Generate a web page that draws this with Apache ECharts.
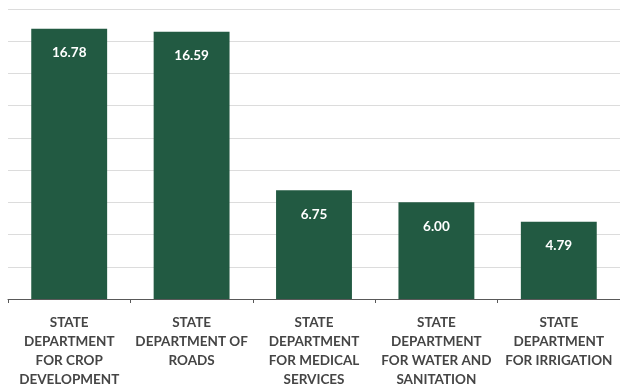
<!DOCTYPE html>
<html>
<head>
<meta charset="utf-8">
<script src="https://cdn.jsdelivr.net/npm/echarts@6/dist/echarts.min.js"></script>
<style>
  html, body { margin: 0; padding: 0; background: #fff; }
  #chart { width: 620px; height: 389px; }
</style>
</head>
<body>
<div id="chart"></div>
<script>
// Department names, split onto the lines shown under each bar
const categories = [
  'STATE\nDEPARTMENT\nFOR CROP\nDEVELOPMENT',
  'STATE\nDEPARTMENT OF\nROADS',
  'STATE\nDEPARTMENT\nFOR MEDICAL\nSERVICES',
  'STATE\nDEPARTMENT\nFOR WATER AND\nSANITATION',
  'STATE\nDEPARTMENT\nFOR IRRIGATION'
];
// Value for each department
const values = [16.78, 16.59, 6.75, 6.00, 4.79];

const chart = echarts.init(document.getElementById('chart'));
chart.setOption({
  animation: false,
  textStyle: { fontFamily: 'Lato, "Open Sans", sans-serif' },
  grid: { left: 8, right: -3, top: 9, bottom: 87, containLabel: false },
  xAxis: {
    type: 'category',
    data: categories,
    axisLine: { show: true, lineStyle: { color: '#595959', width: 1 } },
    axisTick: { show: true, length: 4, lineStyle: { color: '#595959' } },
    axisLabel: {
      interval: 0,
      margin: 14,
      color: '#454545',
      fontWeight: 'bold',
      fontSize: 13.5,
      lineHeight: 19,
      fontFamily: 'Lato, "Open Sans", sans-serif'
    }
  },
  yAxis: {
    type: 'value',
    min: 0,
    max: 18,
    interval: 2,
    axisLine: { show: false },
    axisTick: { show: false },
    axisLabel: { show: false },
    splitLine: { show: true, lineStyle: { color: '#dcdcdc', width: 1 } }
  },
  series: [{
    type: 'bar',
    data: values,
    barCategoryGap: '38%',
    itemStyle: { color: '#225a42' },
    label: {
      show: true,
      position: 'insideTop',
      distance: 17,
      color: '#ffffff',
      fontWeight: 'bold',
      fontSize: 13.5,
      fontFamily: 'Lato, "Open Sans", sans-serif',
      formatter: p => p.value.toFixed(2)
    }
  }]
});
</script>
</body>
</html>
